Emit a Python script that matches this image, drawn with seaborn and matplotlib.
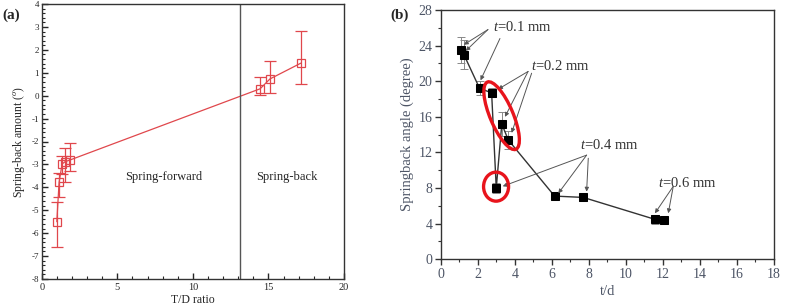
import numpy as np
import pandas as pd
import seaborn as sns
import matplotlib
matplotlib.use("Agg")
import matplotlib.pyplot as plt
import matplotlib.transforms as mtransforms
from matplotlib.patches import Ellipse
from matplotlib.ticker import MultipleLocator

# ---------------- data ----------------
# panel (a)
td_ratio = [1.0, 1.15, 1.35, 1.55, 1.9, 14.45, 15.1, 17.15]
springback_a = [-5.5, -3.78, -2.98, -2.88, -2.8, 0.3, 0.73, 1.42]
err_a_upper = [-4.63, -3.38, -2.65, -2.3, -2.05, 0.8, 1.5, 2.82]
err_a_lower = [-6.62, -4.4, -3.4, -3.75, -3.3, 0.05, 0.1, 0.52]
boundary_td = 13.1

# panel (b)
t_over_d = [1.1, 1.25, 2.1, 2.75, 3.0, 3.3, 3.65, 6.15, 7.7, 11.55, 12.05]
springback_b = [23.5, 23.0, 19.2, 18.7, 8.0, 15.2, 13.4, 7.1, 6.95, 4.5, 4.4]
err_b = [1.5, 1.6, 0.8, 0.5, 0.6, 1.4, 1.0, 0.3, 0.4, 0.5, 0.4]

labels_b = ["0.1 mm", "0.2 mm", "0.4 mm", "0.6 mm"]

# ---------------- style ----------------
sns.set_style("ticks")
plt.rcParams["font.family"] = ["Liberation Serif", "DejaVu Serif"]
plt.rcParams["mathtext.fontset"] = "custom"
plt.rcParams["mathtext.rm"] = "Liberation Serif"
plt.rcParams["mathtext.it"] = "Liberation Serif:italic"
plt.rcParams["axes.unicode_minus"] = False

fig = plt.figure(figsize=(7.9, 3.08), dpi=100)
W, H = 790, 308

def px_axes(l, r, t, b):
    return fig.add_axes([l / W, 1 - b / H, (r - l) / W, (b - t) / H])

# ---------------- panel (a) ----------------
ax = px_axes(41.7, 344, 4, 279)
red = "#e0474c"
df_a = pd.DataFrame({"td": td_ratio, "sb": springback_a})
sns.lineplot(data=df_a, x="td", y="sb", ax=ax, sort=False, color=red,
             lw=0.9, marker="s", markersize=6, markerfacecolor="none",
             markeredgecolor=red, markeredgewidth=0.9)
ya = np.array(springback_a)
yerr_a = [ya - np.array(err_a_lower), np.array(err_a_upper) - ya]
ax.errorbar(td_ratio, springback_a, yerr=yerr_a, fmt="none", ecolor=red,
            elinewidth=0.9, capsize=4, capthick=0.9)
ax.axvline(boundary_td, color="#555555", lw=1.0)
ax.set_xlim(0, 20)
ax.set_ylim(-8, 4)
ax.xaxis.set_major_locator(MultipleLocator(5))
ax.xaxis.set_minor_locator(MultipleLocator(1))
ax.yaxis.set_major_locator(MultipleLocator(1))
ax.yaxis.set_minor_locator(MultipleLocator(0.2))
ax.tick_params(which="both", direction="in", top=False, right=False)
ax.tick_params(which="major", length=4, width=1.0, labelsize=6.5, pad=2)
ax.tick_params(which="minor", length=2.5, width=0.8)
ax.tick_params(axis="x", labelsize=7.5, pad=3)
for s in ax.spines.values():
    s.set_color("#333333")
    s.set_linewidth(1.0)
ax.set_xlabel("T/D ratio", fontsize=8.5, labelpad=1)
ax.set_ylabel(r"Spring-back amount ($^o$)", fontsize=8.5, labelpad=3)
ax.text(8.1, -3.55, "Spring-forward", fontsize=9, ha="center", va="center")
ax.text(16.2, -3.55, "Spring-back", fontsize=9, ha="center", va="center")
fig.text(2 / W, 1 - 15 / H, "(a)", fontsize=11, fontweight="bold",
         ha="left", va="center")

# ---------------- panel (b) ----------------
bx = px_axes(440.7, 774, 10, 259.3)
df_b = pd.DataFrame({"td": t_over_d, "sb": springback_b})
sns.lineplot(data=df_b, x="td", y="sb", ax=bx, sort=True, color="#333333",
             lw=1.0, marker="s", markersize=5.5, markerfacecolor="black",
             markeredgecolor="black", zorder=3)
bx.errorbar(t_over_d, springback_b, yerr=err_b, fmt="none", ecolor="#888888",
            elinewidth=0.7, capsize=3, capthick=0.7, zorder=2)
bx.set_xlim(0, 18)
bx.set_ylim(0, 28)
bx.xaxis.set_major_locator(MultipleLocator(2))
bx.xaxis.set_minor_locator(MultipleLocator(1))
bx.yaxis.set_major_locator(MultipleLocator(4))
bx.yaxis.set_minor_locator(MultipleLocator(2))
lab_col = "#4d5566"
bx.tick_params(which="both", direction="out", top=False, right=False,
               colors="#333333", labelcolor=lab_col)
bx.tick_params(which="major", length=4, width=1.0, labelsize=10, pad=2)
bx.tick_params(which="minor", length=2.5, width=0.8)
for s in bx.spines.values():
    s.set_color("#333333")
    s.set_linewidth(1.0)
bx.set_xlabel("t/d", fontsize=10.5, color=lab_col, labelpad=3)
bx.set_ylabel("Springback angle (degree)", fontsize=10.5, color=lab_col,
              labelpad=3)
fig.text(390 / W, 1 - 15 / H, "(b)", fontsize=11, fontweight="bold",
         ha="left", va="center")

arrow_kw = dict(arrowstyle="-|>", color="#555555", lw=0.7, shrinkA=0,
                shrinkB=0, mutation_scale=6)

def label_with_arrows(text, txy, starts_ends):
    bx.text(txy[0], txy[1], r"$\it{t}$=" + text, fontsize=10.5,
            color="#333333", ha="left", va="center")
    for (sx, sy), (ex, ey) in starts_ends:
        bx.annotate("", xy=(ex, ey), xytext=(sx, sy), arrowprops=arrow_kw)

label_with_arrows(labels_b[0], (2.85, 26.1),
                  [((2.55, 25.8), (1.25, 24.1)), ((2.55, 25.8), (1.35, 23.4)),
                   ((3.2, 24.8), (2.15, 20.1))])
label_with_arrows(labels_b[1], (4.9, 21.7),
                  [((4.72, 21.1), (3.1, 19.1)), ((4.72, 21.1), (3.47, 16.0)),
                   ((4.91, 20.9), (3.83, 14.2))])
label_with_arrows(labels_b[2], (7.5, 12.85),
                  [((7.88, 11.7), (3.35, 8.2)), ((7.88, 11.7), (6.35, 7.4)),
                   ((7.97, 11.35), (7.88, 7.6))])
label_with_arrows(labels_b[3], (11.75, 8.6),
                  [((12.56, 8.2), (11.57, 5.17)), ((12.56, 8.2), (12.29, 5.17))])

def px_ellipse(ax_, cx, cy, wpx, hpx, angle):
    trans = fig.dpi_scale_trans + mtransforms.ScaledTranslation(cx, cy, ax_.transData)
    e = Ellipse((0, 0), wpx / 100, hpx / 100, angle=angle, fill=False,
                edgecolor="#e8141c", lw=2.4, transform=trans, zorder=5)
    ax_.add_patch(e)

px_ellipse(bx, 3.29, 16.13, 73, 23, 113)
px_ellipse(bx, 2.99, 8.16, 25, 29, 0)

fig.savefig("out.png", dpi=100)
